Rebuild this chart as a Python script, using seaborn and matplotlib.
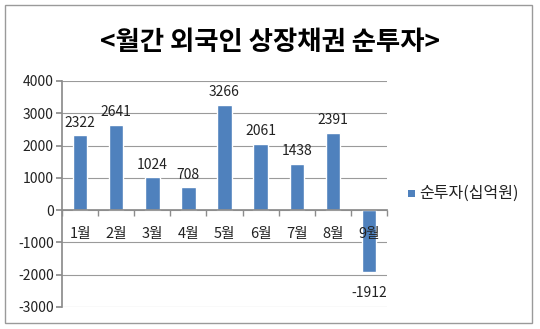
import matplotlib
matplotlib.use("Agg")
import matplotlib.pyplot as plt
import seaborn as sns
import pandas as pd
from matplotlib.patches import Rectangle
from matplotlib.ticker import FixedLocator

months = ["1월", "2월", "3월", "4월", "5월", "6월", "7월", "8월", "9월"]
net_invest = [2322, 2641, 1024, 708, 3266, 2061, 1438, 2391, -1912]
series_name = "순투자(십억원)"
title = "<월간 외국인 상장채권 순투자>"
yticks = [-3000, -2000, -1000, 0, 1000, 2000, 3000, 4000]

sns.set_theme(style="white")
plt.rcParams['font.family'] = ['Noto Sans CJK KR', 'DejaVu Sans']

df = pd.DataFrame({"month": months, "value": net_invest, "series": series_name})

fig = plt.figure(figsize=(5.4, 3.29), dpi=100)
fig.patch.set_facecolor("white")
ax = fig.add_axes([62/540, 1-307/329, (387-62)/540, (307-81)/329])

color = "#4F81BD"
sns.barplot(data=df, x="month", y="value", hue="series", palette=[color],
            width=0.4, ax=ax, legend=False, saturation=1)

ax.set_ylim(-3000, 4000)
ax.set_xlim(-0.5, len(months) - 0.5)
ax.set_yticks(yticks)
ax.set_yticklabels([str(t) for t in yticks], fontsize=10, color="#222222")
ax.grid(axis="y", color="#9a9a9a", linewidth=0.8)
ax.set_axisbelow(True)
ax.xaxis.set_zorder(5)
ax.set_xlabel("")
ax.set_ylabel("")

for s in ["top", "right"]:
    ax.spines[s].set_visible(False)
ax.spines["left"].set_color("#8c8c8c")
ax.spines["bottom"].set_position(("data", 0))
ax.spines["bottom"].set_color("#8c8c8c")
ax.tick_params(axis="y", length=4, color="#8c8c8c", left=True, pad=2)

ax.set_xticks(range(len(months)))
ax.set_xticklabels(months, fontsize=10.5, color="#222222")
ax.tick_params(axis="x", which="major", length=0, pad=12)
ax.xaxis.set_minor_locator(FixedLocator([i + 0.5 for i in range(-1, len(months))]))
ax.tick_params(axis="x", which="minor", length=4, color="#8c8c8c", bottom=True, direction="out")

for i, v in enumerate(net_invest):
    if v >= 0:
        ax.annotate(str(v), (i, v), xytext=(0, 4), textcoords="offset points",
                    ha="center", va="bottom", fontsize=10, color="#222222")
    else:
        ax.annotate(str(v), (i, v), xytext=(0, -10), textcoords="offset points",
                    ha="center", va="top", fontsize=10, color="#222222")

fig.text(270/540, 1-42/329, title, ha="center", va="center", fontsize=19,
         fontweight="bold", color="black")

# legend
fig.patches.append(Rectangle((408/540, 1-197/329), 7/540, 7/329, transform=fig.transFigure,
                             facecolor=color, edgecolor="none"))
fig.text(419/540, 1-193/329, series_name, ha="left", va="center", fontsize=11.5, color="#222222")

# outer border
fig.patches.append(Rectangle((5/540, 1-323/329), 527/540, 318/329, transform=fig.transFigure,
                             facecolor="none", edgecolor="#9a9a9a", linewidth=1))

fig.savefig("out.png", dpi=100, facecolor="white")
